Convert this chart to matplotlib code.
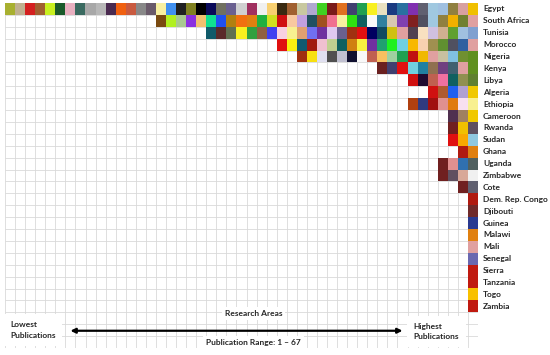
import matplotlib
matplotlib.use('Agg')
import matplotlib.pyplot as plt
import matplotlib.colors as mcolors
import numpy as np

countries = ['Egypt', 'South Africa', 'Tunisia', 'Morocco', 'Nigeria', 'Kenya', 'Libya',
             'Algeria', 'Ethiopia', 'Cameroon', 'Rwanda', 'Sudan', 'Ghana', 'Uganda',
             'Zimbabwe', 'Cote', 'Dem. Rep. Congo', 'Djibouti', 'Guinea', 'Malawi', 'Mali',
             'Senegal', 'Sierra', 'Tanzania', 'Togo', 'Zambia']

# number of research areas each country published in
n_areas = [47, 32, 27, 20, 18, 10, 7, 5, 7, 3, 3, 3, 2, 4, 4, 2, 1, 1, 1, 1, 1, 1, 1, 1, 1, 1]

# colour of each research area cell, read left to right
area_colors = [
    ['#a8b030', '#c0b090', '#d42020', '#a06030', '#c8f020', '#1a5a2a', '#e8b0c0', '#3a6a60',
     '#a8a8a8', '#b8b8b8', '#4a2a50', '#f06010', '#c85a40', '#888888', '#6a5a6a', '#f8f0a0',
     '#4090f0', '#202020', '#808020', '#000000', '#0a0a5a', '#707060', '#6a6090', '#d0d0d0',
     '#a03060', '#f0f0f0', '#f8d070', '#3a2a10', '#a06030', '#c8c8a0', '#b0a8d0', '#40d020',
     '#7a1a1a', '#e07020', '#404070', '#20a050', '#f8f020', '#e8e0c0', '#1a3a80', '#2a70a0',
     '#8030b0', '#606070', '#a0c8e0', '#a0c0e0', '#908040', '#d8a0a0', '#f0c000'],
    ['#7a4a10', '#b0f020', '#a8c890', '#8a30e0', '#f0c070', '#10e090', '#2050f0', '#b08010',
     '#f07010', '#e08010', '#20b040', '#d0e020', '#d01010', '#f8c8a0', '#c0a0e0', '#205060',
     '#a05020', '#f07090', '#f8f0a0', '#30e010', '#106060', '#f8f8f8', '#3080a0', '#d8c8b0',
     '#8040b0', '#802020', '#505060', '#a0c8e0', '#908040', '#f0b000', '#708030', '#e0a0a0'],
    ['#105a6a', '#5a2a2a', '#607050', '#f8f020', '#30a040', '#906040', '#4040f0', '#f8d0e0',
     '#f8f090', '#e0a070', '#7070f0', '#7030a0', '#e0c8f0', '#6a6090', '#a03010', '#e01010',
     '#000060', '#104a60', '#d0c010', '#e0a0a0', '#504050', '#f8e0c0', '#d0c0e0', '#d0b090',
     '#60a030', '#a0c0e0', '#80a0d0'],
    ['#e01010', '#f8f010', '#105a70', '#a01a10', '#f0c0d0', '#c0d090', '#106060', '#d08010',
     '#f8f040', '#7030a0', '#20a070', '#20f020', '#70d0e0', '#f8b800', '#f8d0b0', '#a09050',
     '#609030', '#505060', '#3060a0', '#e0a0a0'],
    ['#a03010', '#f8e010', '#e0e0f0', '#505050', '#c0c0d0', '#101030', '#f8f8f8', '#c06050',
     '#f8c060', '#a0d0a0', '#20a050', '#c01010', '#f0b800', '#e0a0a0', '#c8c0a0', '#80c0e0',
     '#709030', '#609020'],
    ['#6a2020', '#404070', '#e01010', '#70d0e0', '#2080a0', '#907050', '#704080', '#406070',
     '#e0a0a0', '#609020'],
    ['#d01010', '#200a30', '#c06050', '#f070a0', '#106060', '#909050', '#608030'],
    ['#d01010', '#b05a30', '#2060f0', '#b0a0d0', '#f0c800'],
    ['#b04010', '#303a80', '#a01010', '#e09090', '#e07a10', '#f8e0f0', '#f8f090'],
    ['#503050', '#a08060', '#f0c800'],
    ['#702020', '#f0c000', '#605060'],
    ['#e01010', '#f8a800', '#90c8e0'],
    ['#b01a10', '#e08010'],
    ['#702020', '#e09090', '#3070b0', '#506060'],
    ['#702020', '#605060', '#d8a898', '#f0f0f0'],
    ['#702020', '#606070'],
    ['#b01a10'],
    ['#702a2a'],
    ['#2a3a90'],
    ['#e08010'],
    ['#e0a0a0'],
    ['#6a68b0'],
    ['#c01a10'],
    ['#c01a10'],
    ['#f8c000'],
    ['#c01a10'],
]

n_cols = max(n_areas)
n_rows = len(countries) + 3

# build an RGBA grid, cells right aligned
grid = np.zeros((n_rows, n_cols, 4))
for i, (n, cols) in enumerate(zip(n_areas, area_colors)):
    assert len(cols) == n
    for j, c in enumerate(cols):
        grid[i, n_cols - n + j] = mcolors.to_rgba(c)

plt.rcParams['font.family'] = ['Lato', 'DejaVu Sans']

fig = plt.figure(figsize=(5.5, 3.55), dpi=100)
ax = fig.add_axes([5 / 550, 7 / 355, 473 / 550, 345 / 355])
ax.set_xlim(0, n_cols)
ax.set_ylim(n_rows, 0)
ax.axis('off')

ax.vlines(np.arange(n_cols + 1), 0, n_rows, color='#d9d9d9', lw=0.6, zorder=0)
ax.hlines(np.arange(n_rows + 1), 0, n_cols, color='#d9d9d9', lw=0.6, zorder=0)
ax.imshow(grid, extent=(0, n_cols, n_rows, 0), interpolation='nearest', aspect='auto', zorder=1)

for i, name in enumerate(countries):
    ax.text(n_cols + 0.5, i + 0.5, name, va='center', ha='left', fontsize=6,
            fontweight='bold', color='#262626', clip_on=False)

box = dict(facecolor='white', edgecolor='none', pad=2)
ax.text(24.7, 26.1, 'Research Areas', ha='center', va='center', fontsize=6,
        fontweight='bold', color='#262626', bbox=box, zorder=3)
ax.text(24.7, 28.5, 'Publication Range: 1 \u2013 67', ha='center', va='center', fontsize=6,
        fontweight='bold', color='#262626', bbox=box, zorder=3)
ax.text(0.5, 27.5, 'Lowest\nPublications', ha='left', va='center', fontsize=6,
        fontweight='bold', color='#262626', linespacing=1.6,
        bbox=dict(facecolor='white', edgecolor='none', pad=5), zorder=3)
ax.text(40.6, 27.6, 'Highest\nPublications', ha='left', va='center', fontsize=6,
        fontweight='bold', color='#262626', linespacing=1.6,
        bbox=dict(facecolor='white', edgecolor='none', pad=5), zorder=3)
ax.annotate('', xy=(39.5, 27.55), xytext=(6.5, 27.55),
            arrowprops=dict(arrowstyle='<|-|>', color='black', lw=1.6,
                            mutation_scale=7, shrinkA=0, shrinkB=0), zorder=3)

fig.savefig('out.png', dpi=100)
